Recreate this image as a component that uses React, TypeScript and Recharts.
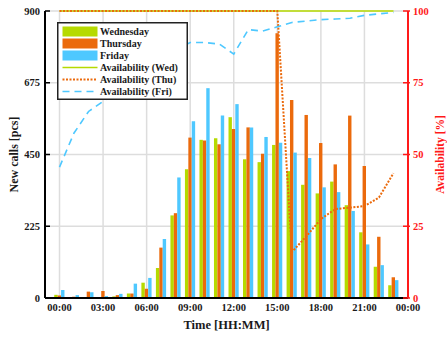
import { Bar, CartesianGrid, ComposedChart, Legend, Line, XAxis, YAxis } from "recharts";

// hour of day (bar groups are centred on the full hour)
const hours = [0, 1, 2, 3, 4, 5, 6, 7, 8, 9, 10, 11, 12, 13, 14, 15, 16, 17, 18, 19, 20, 21, 22, 23];

// new calls per hour [pcs]
const wedCalls = [10, 2, 3, 2, 5, 14, 48, 94, 259, 404, 496, 501, 567, 435, 426, 480, 398, 355, 328, 365, 291, 206, 98, 40];
const thuCalls = [8, 4, 20, 22, 9, 14, 29, 158, 266, 503, 494, 482, 530, 535, 452, 830, 621, 574, 486, 419, 572, 414, 192, 65];
const friCalls = [25, 9, 18, 6, 13, 45, 63, 185, 378, 554, 658, 572, 608, 535, 505, 487, 456, 439, 347, 332, 273, 168, 103, 56];

// availability [%]
const wedAvail = [100, 100, 100, 100, 100, 100, 100, 100, 100, 100, 100, 100, 100, 100, 100, 100, 100, 100, 100, 100, 100, 100, 100, 100];
const thuAvail = [100, 100, 100, 100, 100, 100, 100, 100, 100, 100, 100, 100, 100, 100, 100, 100, 16, 21.5, 27.5, 31, 31.5, 32, 35, 43.5];
const friAvail = [45.6, 57.5, 65, 68.5, 72, 76, 80, 83.5, 86.5, 89, 89, 88.5, 85, 93.5, 93, 94.5, 96, 96.5, 97, 97.2, 97.5, 98.5, 99, 99.5];

const timeTicks = [0, 3, 6, 9, 12, 15, 18, 21, 24];
const callTicks = [0, 225, 450, 675, 900];
const availTicks = [0, 25, 50, 75, 100];

const C = {
  wed: "#b6da00",
  thu: "#eb6a0c",
  fri: "#4ec8ff",
  red: "#ff1a1a",
  grid: "#dddddd",
  ink: "#1a1a1a",
};
const font = "'Liberation Serif', 'Times New Roman', serif";

const legendItems = [
  { label: "Wednesday", color: C.wed, kind: "bar", dash: "" },
  { label: "Thursday", color: C.thu, kind: "bar", dash: "" },
  { label: "Friday", color: C.fri, kind: "bar", dash: "" },
  { label: "Availability (Wed)", color: C.wed, kind: "line", dash: "" },
  { label: "Availability (Thu)", color: C.thu, kind: "line", dash: "2 1.5" },
  { label: "Availability (Fri)", color: C.fri, kind: "line", dash: "7 5" },
];

const hhmm = (h: number) => `${String(h % 24).padStart(2, "0")}:00`;

const data = hours.map((h, i) => ({
  h,
  wed: wedCalls[i],
  thu: thuCalls[i],
  fri: friCalls[i],
  wedA: wedAvail[i],
  thuA: thuAvail[i],
  friA: friAvail[i],
}));

const TICK = 3;
const GAP = 2;

const LeftTick = ({ x, y, payload }: any) => (
  <g>
    <line x1={x + TICK + GAP} x2={x + TICK + GAP + 5} y1={y} y2={y} stroke="#000" strokeWidth={1.5} />
    <text x={x} y={y} dy="0.35em" textAnchor="end" fill={C.ink} fontSize={10.5} fontWeight={700} fontFamily={font}>
      {payload.value}
    </text>
  </g>
);

const RightTick = ({ x, y, payload }: any) => (
  <g>
    <line x1={x - TICK - GAP - 5} x2={x - TICK - GAP + 2} y1={y} y2={y} stroke={C.red} strokeWidth={1.5} />
    <text x={x} y={y} dy="0.35em" textAnchor="start" fill={C.red} fontSize={10.5} fontWeight={700} fontFamily={font}>
      {payload.value}
    </text>
  </g>
);

const BottomTick = ({ x, y, payload }: any) => (
  <text x={x} y={y} dy="0.75em" textAnchor="middle" fill={C.ink} fontSize={10.5} fontWeight={700} fontFamily={font}>
    {hhmm(payload.value)}
  </text>
);

const LW = 131;
const LH = 78;

function LegendBox() {
  return (
    <svg width={LW} height={LH} style={{ display: "block" }}>
      <rect x={0.75} y={0.75} width={LW - 1.5} height={LH - 1.5} fill="#fff" stroke="#222" strokeWidth={1.5} />
      {legendItems.map((it, i) => {
        const cy = 9.5 + i * 12;
        return (
          <g key={it.label}>
            {it.kind === "bar" ? (
              <rect x={5.5} y={cy - 5} width={35} height={10} fill={it.color} />
            ) : (
              <line
                x1={5.5}
                x2={40.5}
                y1={cy}
                y2={cy}
                stroke={it.color}
                strokeWidth={it.dash === "2 1.5" ? 2 : 1.6}
                strokeDasharray={it.dash || undefined}
              />
            )}
            <text x={43} y={cy} dy="0.35em" fill={C.ink} fontSize={10} fontWeight={700} fontFamily={font}>
              {it.label}
            </text>
          </g>
        );
      })}
    </svg>
  );
}

export default function App() {
  return (
    <>
      <style>{`body{margin:0}`}</style>
      <ComposedChart
        width={447}
        height={338}
        data={data}
        margin={{ top: 11, right: 0, bottom: 0, left: 0 }}
        barGap={0}
        barSize={3.4}
      >
        <CartesianGrid yAxisId="left" stroke={C.grid} strokeWidth={1.5} />
        <XAxis
          dataKey="h"
          type="number"
          domain={[-1, 24]}
          ticks={timeTicks}
          interval={0}
          height={40}
          tick={<BottomTick />}
          tickLine={false}
          tickSize={TICK}
          tickMargin={GAP}
          stroke="#000"
          strokeWidth={2}
          label={{
            value: "Time [HH:MM]",
            position: "insideBottom",
            offset: 9,
            fill: C.ink,
            fontSize: 12.5,
            fontWeight: 700,
            fontFamily: font,
          }}
        />
        <YAxis
          yAxisId="left"
          domain={[0, 900]}
          ticks={callTicks}
          interval={0}
          width={45}
          tick={<LeftTick />}
          tickLine={false}
          tickSize={TICK}
          tickMargin={GAP}
          stroke="#000"
          strokeWidth={2}
          label={{
            value: "New calls [pcs]",
            angle: -90,
            position: "insideLeft",
            offset: 14,
            fill: C.ink,
            fontSize: 12,
            fontWeight: 700,
            fontFamily: font,
            style: { textAnchor: "middle" },
          }}
        />
        <YAxis
          yAxisId="right"
          orientation="right"
          domain={[0, 100]}
          ticks={availTicks}
          interval={0}
          width={39}
          tick={<RightTick />}
          tickLine={false}
          tickSize={TICK}
          tickMargin={GAP}
          stroke={C.red}
          strokeWidth={2}
          label={{
            value: "Availability [%]",
            angle: -90,
            position: "insideRight",
            offset: 7,
            fill: C.red,
            fontSize: 11.5,
            fontWeight: 700,
            fontFamily: font,
            style: { textAnchor: "middle" },
          }}
        />
        <Legend
          layout="horizontal"
          verticalAlign="middle"
          align="center"
          content={<LegendBox />}
          wrapperStyle={{ left: 57, top: 22, width: LW, height: LH }}
        />
        <Bar yAxisId="left" dataKey="wed" fill={C.wed} isAnimationActive={false} />
        <Bar yAxisId="left" dataKey="thu" fill={C.thu} isAnimationActive={false} />
        <Bar yAxisId="left" dataKey="fri" fill={C.fri} isAnimationActive={false} />
        <Line
          yAxisId="right"
          dataKey="wedA"
          stroke={C.wed}
          strokeWidth={1.6}
          dot={false}
          activeDot={false}
          isAnimationActive={false}
        />
        <Line
          yAxisId="right"
          dataKey="thuA"
          stroke={C.thu}
          strokeWidth={2}
          strokeDasharray="2 1.5"
          dot={false}
          activeDot={false}
          isAnimationActive={false}
        />
        <Line
          yAxisId="right"
          dataKey="friA"
          stroke={C.fri}
          strokeWidth={1.6}
          strokeDasharray="7 5"
          dot={false}
          activeDot={false}
          isAnimationActive={false}
        />
      </ComposedChart>
    </>
  );
}
